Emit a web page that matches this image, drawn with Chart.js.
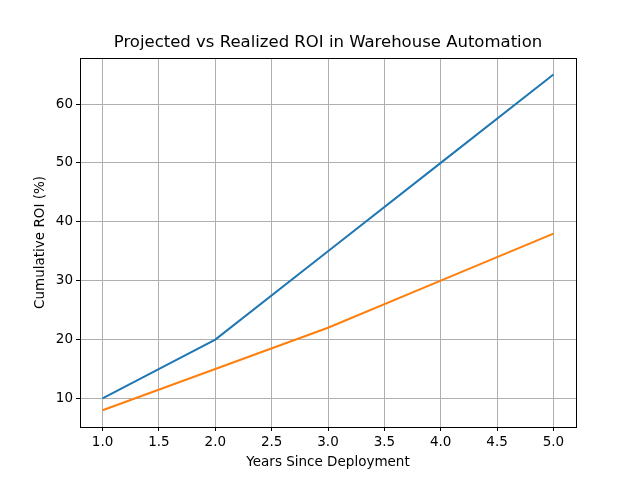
<!DOCTYPE html>
<html>
<head>
<meta charset="utf-8">
<script src="https://cdn.jsdelivr.net/npm/chart.js@4"></script>
<style>
  html, body { margin: 0; padding: 0; background: #fff; }
  #wrap { width: 640px; height: 480px; }
</style>
</head>
<body>
<div id="wrap"><canvas id="chart-canvas" width="640" height="480"></canvas></div>
<script>
const years = [1, 2, 3, 4, 5];
const projected = [10, 20, 35, 50, 65];
const realized = [8, 15, 22, 30, 38];
const xTicks = [1.0, 1.5, 2.0, 2.5, 3.0, 3.5, 4.0, 4.5, 5.0];
const yTicks = [10, 20, 30, 40, 50, 60];

const FONT = 'DejaVu Sans';

// black frame round the plot, like matplotlib spines
const frame = {
    id: 'frame',
    afterDraw(chart) {
        const a = chart.chartArea;
        const ctx = chart.ctx;
        ctx.save();
        ctx.strokeStyle = '#000';
        ctx.lineWidth = 1;
        ctx.strokeRect(Math.round(a.left) + 0.5, Math.round(a.top) + 0.5,
            Math.round(a.right - a.left), Math.round(a.bottom - a.top));
        ctx.restore();
    }
};

const ctx = document.getElementById('chart-canvas').getContext('2d');
new Chart(ctx, {
    type: 'line',
    data: {
        datasets: [{
            label: 'Projected',
            data: years.map((x, i) => ({ x: x, y: projected[i] })),
            borderColor: '#1f77b4',
            borderWidth: 2,
            pointRadius: 0,
            tension: 0
        }, {
            label: 'Realized',
            data: years.map((x, i) => ({ x: x, y: realized[i] })),
            borderColor: '#ff7f0e',
            borderWidth: 2,
            pointRadius: 0,
            tension: 0
        }]
    },
    options: {
        responsive: false,
        animation: false,
        // left padding 16 so the title centres over the plot area
        layout: { padding: { left: 16, right: 0, top: 0, bottom: 0 } },
        plugins: {
            legend: { display: false },
            tooltip: { enabled: false },
            title: {
                display: true,
                align: 'center',
                text: 'Projected vs Realized ROI in Warehouse Automation',
                color: '#000',
                font: { family: FONT, size: 16.5, weight: 'normal' },
                padding: { top: 33, bottom: 5 }
            }
        },
        scales: {
            x: {
                type: 'linear',
                min: 0.8,
                max: 5.2,
                afterBuildTicks: s => { s.ticks = xTicks.map(v => ({ value: v })); },
                afterFit: s => { s.height = 53; },
                ticks: {
                    color: '#000',
                    font: { family: FONT, size: 13.5 },
                    padding: 3,
                    maxRotation: 0,
                    callback: v => v.toFixed(1)
                },
                grid: { color: '#b0b0b0', tickColor: '#000', tickLength: 4, lineWidth: 1 },
                border: { display: false },
                title: {
                    display: true,
                    text: 'Years Since Deployment',
                    color: '#000',
                    font: { family: FONT, size: 13.5 },
                    padding: { top: 2, bottom: 9 }
                }
            },
            y: {
                type: 'linear',
                min: 5.15,
                max: 67.85,
                afterBuildTicks: s => { s.ticks = yTicks.map(v => ({ value: v })); },
                afterFit: s => { s.width = 64; },
                ticks: {
                    color: '#000',
                    font: { family: FONT, size: 13.5 },
                    padding: 3
                },
                grid: { color: '#b0b0b0', tickColor: '#000', tickLength: 4, lineWidth: 1 },
                border: { display: false },
                title: {
                    display: true,
                    text: 'Cumulative ROI (%)',
                    color: '#000',
                    font: { family: FONT, size: 13.5 },
                    padding: { top: 16, bottom: 0 }
                }
            },
            // empty right axis, only reserves the right margin
            yRight: {
                type: 'linear',
                position: 'right',
                min: 5.15,
                max: 67.85,
                afterFit: s => { s.width = 64; },
                ticks: { display: false },
                grid: { display: false },
                border: { display: false }
            }
        }
    },
    plugins: [frame]
});
</script>
</body>
</html>
